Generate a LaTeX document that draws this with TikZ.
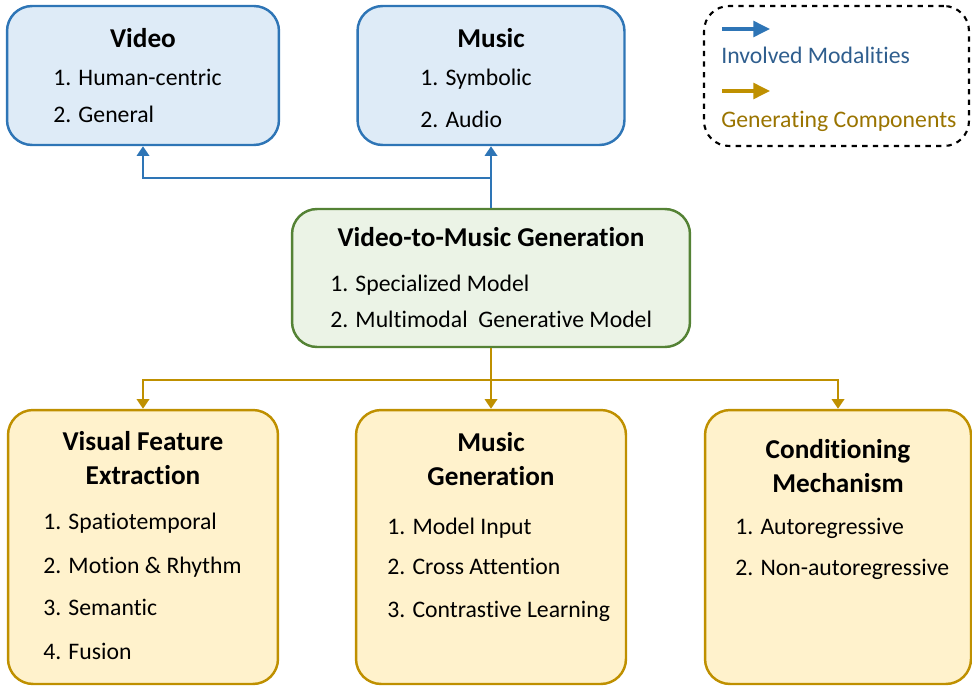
\documentclass[tikz,border=0pt]{standalone}
\usepackage{fontspec}
\setmainfont{Carlito}[Ligatures=NoCommon]
\usetikzlibrary{arrows.meta}
\definecolor{blueline}{HTML}{2E75B6}
\definecolor{bluefill}{HTML}{DEEBF7}
\definecolor{greenline}{HTML}{548235}
\definecolor{greenfill}{HTML}{EBF3E6}
\definecolor{goldline}{HTML}{BF9000}
\definecolor{goldfill}{HTML}{FFF2CC}
\definecolor{bluetext}{HTML}{2F5E8E}
\definecolor{goldtext}{HTML}{9A7400}
\tikzset{
  box/.style={draw, line width=1.4pt, rounded corners=0.5cm, inner sep=0pt},
  modbox/.style={box, draw=blueline, fill=bluefill},
  genbox/.style={box, draw=greenline, fill=greenfill},
  compbox/.style={box, draw=goldline, fill=goldfill},
  legendbox/.style={box, draw=black, dashed, line width=1.2pt},
  boxtitle/.style={font=\fontsize{15.5}{19}\selectfont\bfseries, align=center, inner sep=0pt},
  listitem/.style={font=\fontsize{13.5}{16}\selectfont, anchor=west, inner sep=0pt, text height=0.9em, text depth=0.1em},
  legendtext/.style={listitem},
  bluearrow/.style={draw=blueline, line width=1.4pt, -{Triangle[width=7pt,length=5.5pt]}},
  goldarrow/.style={draw=goldline, line width=1.4pt, -{Triangle[width=7pt,length=5.5pt]}},
  bigtip/.style={line width=1.8pt, -{Triangle[width=9pt,length=9.5pt]}}
}
\begin{document}
\begin{tikzpicture}[x=0.02cm, y=-0.02cm]
  \useasboundingbox (0,0) rectangle (972,686);
  \node[modbox, minimum width=5.44cm, minimum height=2.78cm] (video) at (143,75.5) {};
  \node[modbox, minimum width=5.34cm, minimum height=2.78cm] (music) at (491,75.5) {};
  \node[legendbox, minimum width=5.3cm, minimum height=2.8cm] (legend) at (836.5,76) {};
  \node[genbox, minimum width=7.96cm, minimum height=2.76cm] (gen) at (491,278) {};
  \node[compbox, minimum width=5.4cm, minimum height=5.48cm] (visual) at (143,547) {};
  \node[compbox, minimum width=5.4cm, minimum height=5.48cm] (musicgen) at (491,547) {};
  \node[compbox, minimum width=5.32cm, minimum height=5.48cm] (cond) at (838,547) {};

  \node[boxtitle] (videot) at (143,38) {Video};
  \node[listitem] (video1) at (53,78) {1. Human-centric};
  \node[listitem] (video2) at (53,115) {2. General};

  \node[boxtitle] (musict) at (491,38) {Music};
  \node[listitem] (music1) at (420,78) {1. Symbolic};
  \node[listitem] (music2) at (420,120) {2. Audio};

  \node[boxtitle] (gent) at (491,237) {Video-to-Music Generation};
  \node[listitem] (gen1) at (330,284) {1. Specialized Model};
  \node[listitem] (gen2) at (330,320) {2. Multimodal\ \ Generative Model};

  \node[boxtitle] (visualt) at (143,458) {Visual Feature\\Extraction};
  \node[listitem] (visual1) at (43,522) {1. Spatiotemporal};
  \node[listitem] (visual2) at (43,566) {2. Motion \& Rhythm};
  \node[listitem] (visual3) at (43,608) {3. Semantic};
  \node[listitem] (visual4) at (43,652) {4. Fusion};

  \node[boxtitle] (musicgent) at (491,459) {Music\\Generation};
  \node[listitem] (musicgen1) at (387,527) {1. Model Input};
  \node[listitem] (musicgen2) at (387,567) {2. Cross Attention};
  \node[listitem] (musicgen3) at (387,610) {3. Contrastive Learning};

  \node[boxtitle] (condt) at (838,466) {Conditioning\\Mechanism};
  \node[listitem] (cond1) at (735,527) {1. Autoregressive};
  \node[listitem] (cond2) at (735,568) {2. Non-autoregressive};

  \coordinate (bluea) at (722,29);
  \coordinate (blueb) at (770,29);
  \coordinate (golda) at (722,91);
  \coordinate (goldb) at (770,91);
  \draw[bluearrow, bigtip] (bluea) -- (blueb);
  \draw[goldarrow, bigtip] (golda) -- (goldb);
  \node[legendtext, text=bluetext] (legend1) at (721,56) {Involved Modalities};
  \node[legendtext, text=goldtext] (legend2) at (721,120) {Generating Components};

  \coordinate (up) at (491,178);
  \draw[draw=blueline, line width=1.4pt] (gen.north) -- (up);
  \draw[bluearrow] (up) -- (music.south);
  \draw[bluearrow] (up) -| (video.south);

  \coordinate (down) at (491,380);
  \draw[draw=goldline, line width=1.4pt] (gen.south) -- (down);
  \draw[goldarrow] (down) -- (musicgen.north);
  \draw[goldarrow] (down) -| (visual.north);
  \draw[goldarrow] (down) -| (cond.north);
\end{tikzpicture}
\end{document}
